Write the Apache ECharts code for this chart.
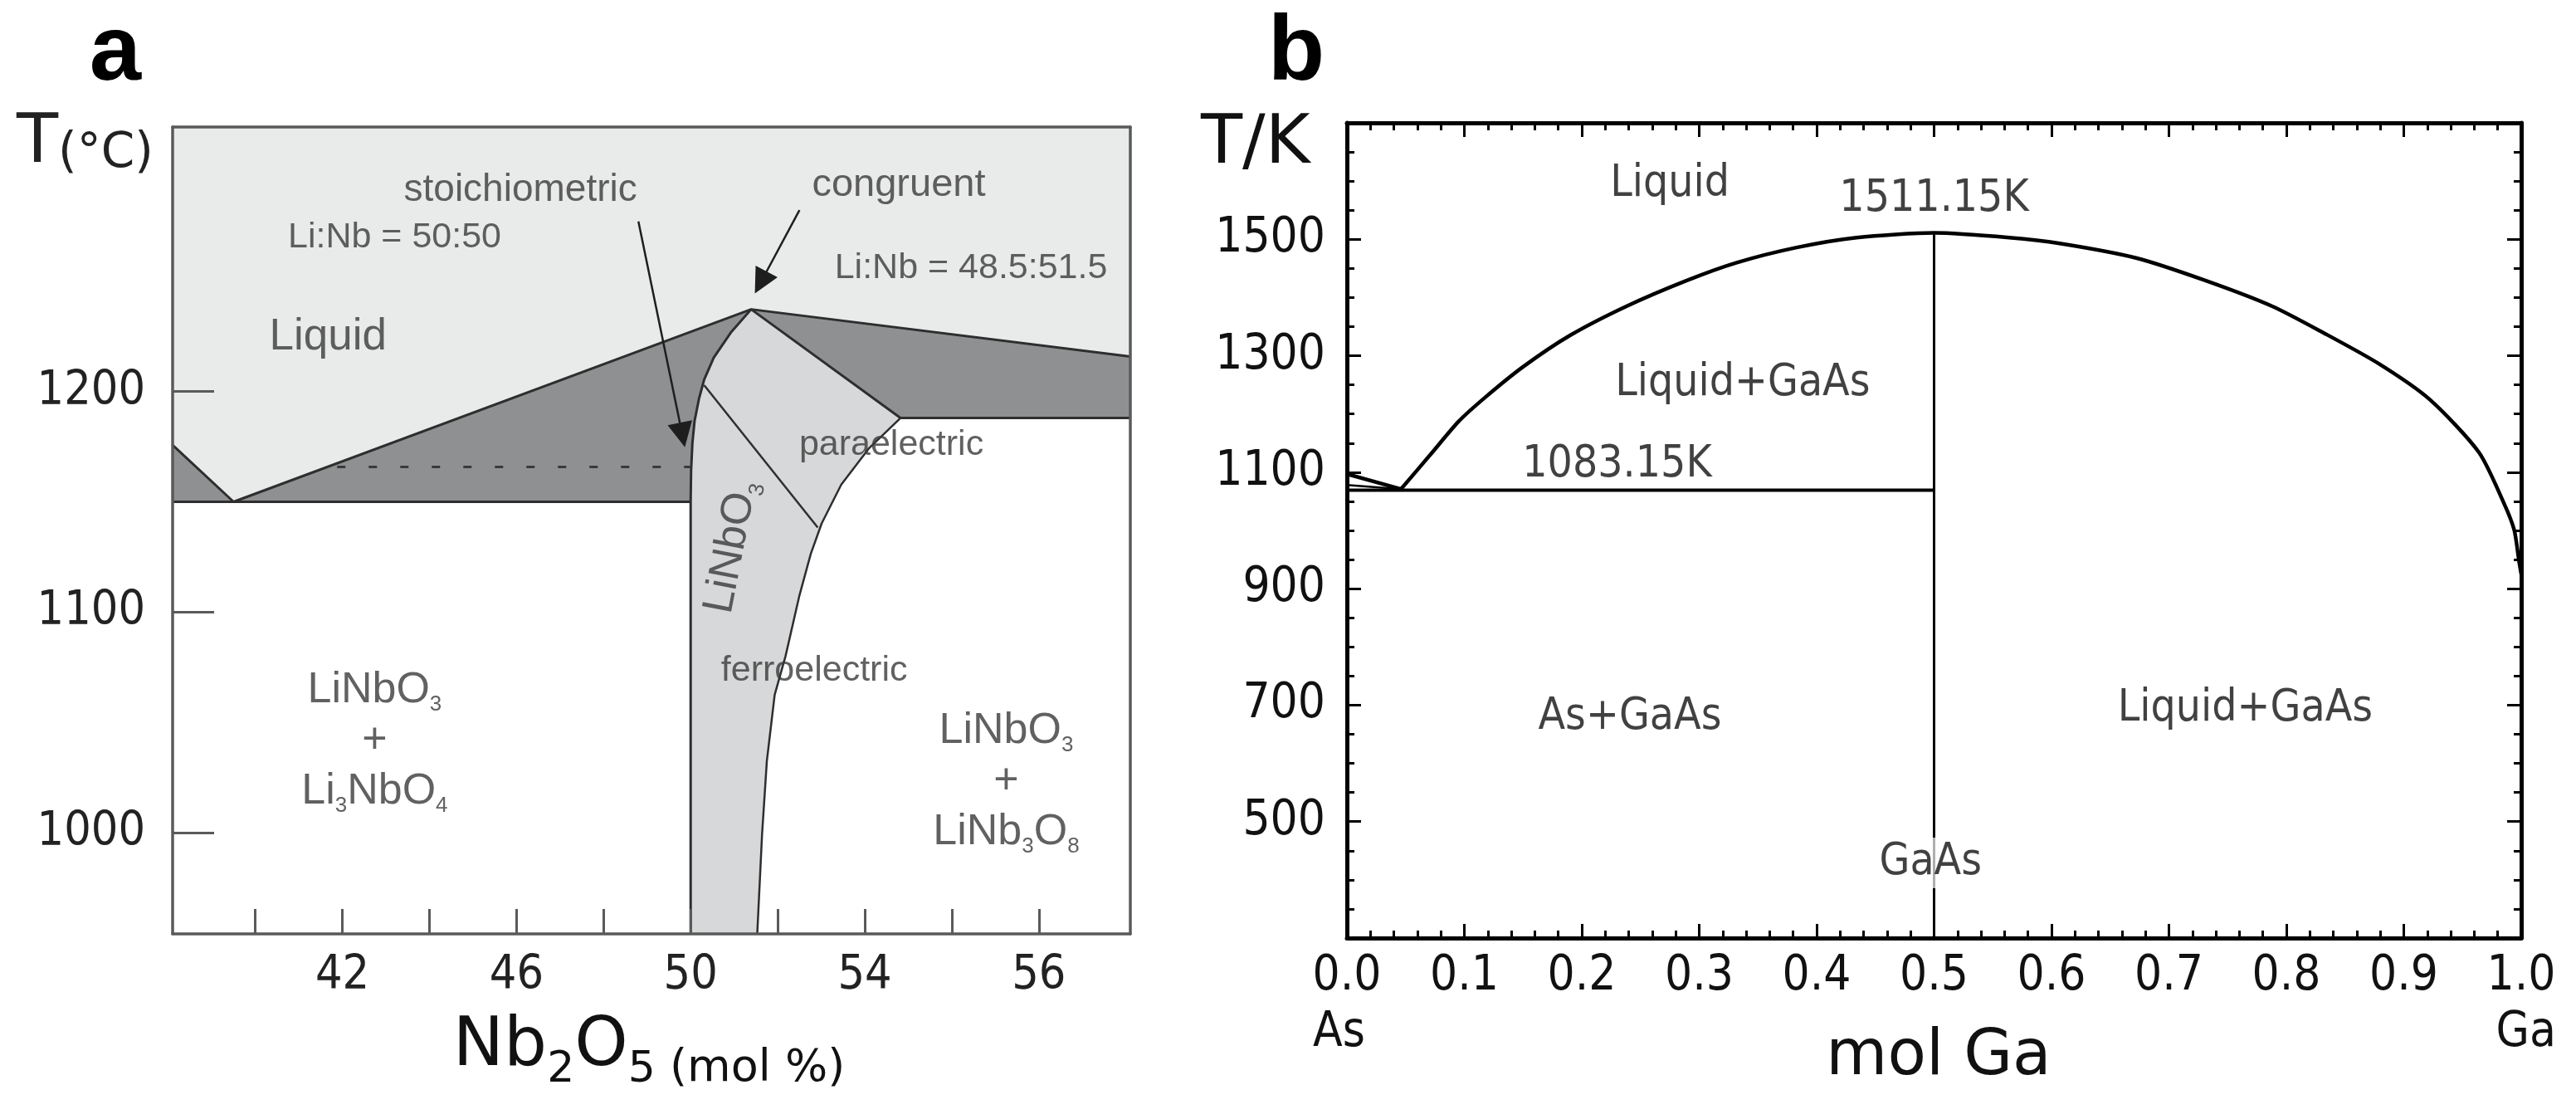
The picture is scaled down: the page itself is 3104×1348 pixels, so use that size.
<!DOCTYPE html>
<html><head><meta charset="utf-8">
<script src="https://cdn.jsdelivr.net/npm/echarts@6/dist/echarts.min.js"></script>
<style>html,body{margin:0;padding:0;background:#fff}#c{width:3104px;height:1348px}</style>
</head><body><div id="c"></div>
<script>
// ---------- Panel a : LiNbO3 phase diagram (x = Nb2O5 mol %, y = T in °C) ----------
const aXRange = [38.1, 60.1];
const aYRange = [954, 1320];
const aXTicks = [40, 42, 44, 46, 48, 50, 52, 54, 56, 58];
const aXLabelValues = [42, 46, 50, 54, 58];
const aXLabelTexts = ['42', '46', '50', '54', '56'];
const aYTicks = [1000, 1100, 1200];
const aLiquidRegion = [[38.1, 1320], [60.1, 1320], [60.1, 1215.9], [51.39, 1237.3], [39.5, 1150], [38.1, 1175.7]];
const aLiquidus = [[38.1, 1175.7], [39.5, 1150], [51.39, 1237.3], [60.1, 1215.9]];
const aLeftSolidus = [[51.39, 1237.3], [50.92, 1226.7], [50.53, 1215.4], [50.31, 1205.4], [50.19, 1196.6], [50.09, 1186.6], [50.04, 1176.6], [50.01, 1164], [50, 1150], [50, 954]];
const aRightSolidus = [[51.39, 1237.3], [54.82, 1188]];
const aRightBoundary = [[54.82, 1188], [54.09, 1174.1], [53.46, 1157.8], [53.01, 1140.2], [52.76, 1126.4], [52.5, 1107.6], [52.18, 1080], [51.93, 1062.4], [51.75, 1032.3], [51.64, 998.9], [51.53, 954]];
const aEutectic = [[38.1, 1150], [50, 1150]];
const aRightEutectic = [[54.82, 1188], [60.1, 1188]];
const aParaFerro = [[50.31, 1202.9], [52.92, 1138.3]];
const aDotted = [[41.88, 1165.8], [50.01, 1165.8]];
const aArrowStoich = [[48.8, 1277.2], [49.81, 1180.3]];
const aArrowCongruent = [[52.5, 1282.3], [51.61, 1249.5]];

// ---------- Panel b : Ga-As phase diagram (x = mol Ga, y = T in K) ----------
const bXRange = [0, 1];
const bYRange = [300, 1700];
const bLiquidus = [[0.046, 1071], [0.071, 1130], [0.095, 1187], [0.118, 1229], [0.15, 1281], [0.19, 1335], [0.238, 1385], [0.289, 1429], [0.332, 1460], [0.383, 1486], [0.434, 1503], [0.5, 1511],
  [0.564, 1503], [0.607, 1493], [0.672, 1468], [0.73, 1430], [0.788, 1385], [0.832, 1339], [0.879, 1286], [0.922, 1225], [0.964, 1134], [0.985, 1048], [0.994, 1001], [0.998, 949], [1.0, 925]];
const bAsLiquidus = [[0, 1097], [0.046, 1071]];
const bAsLower = [[0, 1078], [0.046, 1071]];
const bEutectic = [[0, 1069], [0.5, 1069]];
const bCompound = [[0.5, 1511], [0.5, 300]];

const arial = "'Liberation Sans', Arial, sans-serif";
const cond = "'DejaVu Sans Condensed', 'DejaVu Sans', sans-serif";
const dejavu = "'DejaVu Sans', sans-serif";
const aGray = '#5a5a5a';
const aText = '#3a3a3a';

function poly(pts, color, xi, yi) {
  return { type: 'custom', xAxisIndex: xi, yAxisIndex: yi, z: 1, silent: true, data: [pts[0]],
    renderItem: (p, api) => ({ type: 'polygon', shape: { points: pts.map(q => api.coord(q)) }, style: { fill: color } }) };
}
function line(pts, style, xi, yi, smooth) {
  return { type: 'line', xAxisIndex: xi, yAxisIndex: yi, data: pts, showSymbol: false, symbol: 'none', silent: true, z: 5,
    smooth: smooth || false, lineStyle: Object.assign({ color: '#333', width: 3 }, style) };
}
function textLabels(items, xi, yi, base) {
  return { type: 'scatter', xAxisIndex: xi, yAxisIndex: yi, symbolSize: 0, silent: true, z: 8,
    data: items.map(it => ({ value: it.pos, label: Object.assign({ show: true, position: 'inside', formatter: it.text }, base, it.style || {}) })) };
}

const darkLeft = [aLiquidus[0], aLiquidus[1], aLiquidus[2], ...aLeftSolidus.slice(1, 9), aEutectic[0]];
const darkRight = [aRightSolidus[0], aLiquidus[3], aRightEutectic[1], aRightSolidus[1]];
const linbRegion = [...aRightSolidus, ...aRightBoundary.slice(1), ...aLeftSolidus.slice().reverse()];

const subRich = (size, sub, lh, color, fam) => ({
  m: { fontSize: size, fontFamily: fam, color: color, lineHeight: lh, verticalAlign: 'middle' },
  s: { fontSize: sub, fontFamily: fam, color: color, lineHeight: sub, verticalAlign: 'bottom' }
});

const chart = echarts.init(document.getElementById('c'));
chart.setOption({
  animation: false,
  backgroundColor: '#fff',
  grid: [
    { left: 208, top: 153, width: 1154, height: 972 },
    { left: 1623, top: 148, width: 1415, height: 982 }
  ],
  xAxis: [
    { gridIndex: 0, type: 'value', min: aXRange[0], max: aXRange[1], position: 'bottom', z: 10,
      axisLine: { show: true, onZero: false, lineStyle: { color: aGray, width: 3.5 } },
      axisTick: { show: true, inside: true, length: 30, customValues: aXTicks, lineStyle: { color: aGray, width: 3 } },
      axisLabel: { show: true, customValues: aXLabelValues, formatter: v => aXLabelTexts[aXLabelValues.indexOf(v)], margin: 23, fontSize: 57, fontFamily: cond, color: '#222' },
      splitLine: { show: false } },
    { gridIndex: 0, type: 'value', min: aXRange[0], max: aXRange[1], position: 'top', z: 10,
      axisLine: { show: true, onZero: false, lineStyle: { color: aGray, width: 3.5 } },
      axisTick: { show: false }, axisLabel: { show: false }, splitLine: { show: false } },
    { gridIndex: 1, type: 'value', min: bXRange[0], max: bXRange[1], interval: 0.1, position: 'bottom', z: 10,
      axisLine: { show: true, onZero: false, lineStyle: { color: '#000', width: 5 } },
      axisTick: { show: true, inside: true, length: 17, lineStyle: { color: '#000', width: 3 } },
      minorTick: { show: true, splitNumber: 5, length: 9, lineStyle: { color: '#000', width: 3 } },
      axisLabel: { show: true, formatter: v => v.toFixed(1), margin: 18, fontSize: 58, fontFamily: cond, color: '#111' },
      splitLine: { show: false } },
    { gridIndex: 1, type: 'value', min: bXRange[0], max: bXRange[1], interval: 0.1, position: 'top', z: 10,
      axisLine: { show: true, onZero: false, lineStyle: { color: '#000', width: 5 } },
      axisTick: { show: true, inside: true, length: 17, lineStyle: { color: '#000', width: 3 } },
      minorTick: { show: true, splitNumber: 5, length: 9, lineStyle: { color: '#000', width: 3 } },
      axisLabel: { show: false }, splitLine: { show: false } }
  ],
  yAxis: [
    { gridIndex: 0, type: 'value', min: aYRange[0], max: aYRange[1], position: 'left', z: 10,
      axisLine: { show: true, onZero: false, lineStyle: { color: aGray, width: 3.5 } },
      axisTick: { show: true, inside: true, length: 50, customValues: aYTicks, lineStyle: { color: aGray, width: 3 } },
      axisLabel: { show: true, customValues: aYTicks, formatter: v => String(v), margin: 33, fontSize: 57, fontFamily: cond, color: '#222' },
      splitLine: { show: false } },
    { gridIndex: 0, type: 'value', min: aYRange[0], max: aYRange[1], position: 'right', z: 10,
      axisLine: { show: true, onZero: false, lineStyle: { color: aGray, width: 3.5 } },
      axisTick: { show: false }, axisLabel: { show: false }, splitLine: { show: false } },
    { gridIndex: 1, type: 'value', min: bYRange[0], max: bYRange[1], interval: 200, position: 'left', z: 10,
      axisLine: { show: true, onZero: false, lineStyle: { color: '#000', width: 5 } },
      axisTick: { show: true, inside: true, length: 17, lineStyle: { color: '#000', width: 3 } },
      minorTick: { show: true, splitNumber: 4, length: 9, lineStyle: { color: '#000', width: 3 } },
      axisLabel: { show: true, formatter: v => (v === bYRange[0] || v === bYRange[1]) ? '' : String(v), margin: 26, fontSize: 58, fontFamily: cond, color: '#111' },
      splitLine: { show: false } },
    { gridIndex: 1, type: 'value', min: bYRange[0], max: bYRange[1], interval: 200, position: 'right', z: 10,
      axisLine: { show: true, onZero: false, lineStyle: { color: '#000', width: 5 } },
      axisTick: { show: true, inside: true, length: 17, lineStyle: { color: '#000', width: 3 } },
      minorTick: { show: true, splitNumber: 4, length: 9, lineStyle: { color: '#000', width: 3 } },
      axisLabel: { show: false }, splitLine: { show: false } }
  ],
  series: [
    // panel a regions
    poly(aLiquidRegion, '#e9eaea', 0, 0),
    poly(darkLeft, '#8f9091', 0, 0),
    poly(darkRight, '#8f9091', 0, 0),
    poly(linbRegion, '#d7d8d9', 0, 0),
    // panel a boundaries
    line(aLiquidus, { color: '#2e2e2e', width: 3 }, 0, 0),
    line(aLeftSolidus, { color: '#2e2e2e', width: 3 }, 0, 0),
    line(aRightSolidus, { color: '#2e2e2e', width: 3 }, 0, 0),
    line(aRightBoundary, { color: '#2e2e2e', width: 2.5 }, 0, 0),
    line(aEutectic, { color: '#2e2e2e', width: 3 }, 0, 0),
    line(aRightEutectic, { color: '#2e2e2e', width: 3 }, 0, 0),
    line(aParaFerro, { color: '#2e2e2e', width: 2.5 }, 0, 0),
    line(aDotted, { color: '#3a3a3a', width: 3, type: [10, 28] }, 0, 0),
    { type: 'lines', coordinateSystem: 'cartesian2d', xAxisIndex: 0, yAxisIndex: 0, z: 7, silent: true,
      symbol: ['none', 'triangle'], symbolSize: [1, 30],
      lineStyle: { color: '#1e1e1e', width: 2.5, opacity: 1 },
      data: [{ coords: aArrowStoich }, { coords: aArrowCongruent }] },
    // panel a texts
    textLabels([
      { pos: [46.09, 1291.4], text: 'stoichiometric', style: { fontSize: 46 } },
      { pos: [43.2, 1269.9], text: 'Li:Nb = 50:50', style: { fontSize: 43 } },
      { pos: [54.78, 1293.6], text: 'congruent', style: { fontSize: 47 } },
      { pos: [56.44, 1255.8], text: 'Li:Nb = 48.5:51.5', style: { fontSize: 43 } },
      { pos: [41.67, 1224.6], text: 'Liquid', style: { fontSize: 53 } },
      { pos: [54.61, 1175.6], text: 'paraelectric', style: { fontSize: 43 } },
      { pos: [52.84, 1073.3], text: 'ferroelectric', style: { fontSize: 43 } },
      { pos: [42.74, 1041.5], text: '{m|LiNbO}{s|3}\n{m|+}\n{m|Li}{s|3}{m|NbO}{s|4}', style: { rich: subRich(52, 26, 61, aText, arial) } },
      { pos: [57.25, 1023.0], text: '{m|LiNbO}{s|3}\n{m|+}\n{m|LiNb}{s|3}{m|O}{s|8}', style: { rich: subRich(52, 26, 61, aText, arial) } },
      { pos: [50.94, 1129.5], text: '{m|LiNbO}{s|3}', style: { rotate: 79, rich: subRich(52, 26, 61, aText, arial) } }
    ], 0, 0, { fontFamily: arial, color: aText, align: 'center', verticalAlign: 'middle' }),
    // panel b curves
    line(bLiquidus, { color: '#000', width: 4.5 }, 2, 2, 0.25),
    line(bAsLiquidus, { color: '#000', width: 4.5 }, 2, 2),
    line(bAsLower, { color: '#000', width: 2.5 }, 2, 2),
    line(bEutectic, { color: '#000', width: 4 }, 2, 2),
    line(bCompound, { color: '#000', width: 3 }, 2, 2),
    textLabels([
      { pos: [0.275, 1594], text: 'Liquid' },
      { pos: [0.5, 1568], text: '1511.15K' },
      { pos: [0.337, 1252], text: 'Liquid+GaAs' },
      { pos: [0.23, 1112.5], text: '1083.15K' },
      { pos: [0.241, 679.5], text: 'As+GaAs' },
      { pos: [0.765, 693], text: 'Liquid+GaAs' },
      { pos: [0.497, 429], text: 'GaAs', style: { backgroundColor: 'rgba(255,255,255,0.85)', padding: [4, 0] } }
    ], 2, 2, { fontFamily: cond, fontSize: 53, color: '#111', align: 'center', verticalAlign: 'middle' })
  ],
  graphic: [
    { type: 'text', x: 139, y: 65, style: { text: 'a', fontFamily: arial, fontWeight: 'bold', fontSize: 112, fill: '#000', align: 'center', verticalAlign: 'middle' } },
    { type: 'text', x: 1562, y: 65, style: { text: 'b', fontFamily: arial, fontWeight: 'bold', fontSize: 112, fill: '#000', align: 'center', verticalAlign: 'middle' } },
    { type: 'text', x: 20, y: 174, style: { text: '{t|T}{u|(°C)}', align: 'left', verticalAlign: 'middle',
        rich: { t: { fontSize: 82, fontFamily: dejavu, fill: '#222', lineHeight: 82, verticalAlign: 'middle' },
                u: { fontSize: 58, fontFamily: dejavu, fill: '#222', lineHeight: 68, verticalAlign: 'bottom' } } } },
    { type: 'text', x: 1447, y: 175, style: { text: 'T/K', fontFamily: dejavu, fontSize: 82, fill: '#111', align: 'left', verticalAlign: 'middle' } },
    { type: 'text', x: 782, y: 1262, style: { text: '{a|Nb}{b|2}{a|O}{b|5}{c| (mol %)}', align: 'center', verticalAlign: 'middle',
        rich: { a: { fontSize: 82, fontFamily: dejavu, fill: '#111', lineHeight: 106, verticalAlign: 'middle' },
                b: { fontSize: 52, fontFamily: dejavu, fill: '#111', lineHeight: 52, verticalAlign: 'bottom' },
                c: { fontSize: 54, fontFamily: dejavu, fill: '#111', lineHeight: 94, verticalAlign: 'bottom' } } } },
    { type: 'text', x: 2336, y: 1274, style: { text: 'mol Ga', fontFamily: dejavu, fontSize: 76, fill: '#111', align: 'center', verticalAlign: 'middle' } },
    { type: 'text', x: 1582, y: 1245, style: { text: 'As', fontFamily: cond, fontSize: 58, fill: '#111', align: 'left', verticalAlign: 'middle' } },
    { type: 'text', x: 3080, y: 1245, style: { text: 'Ga', fontFamily: cond, fontSize: 58, fill: '#111', align: 'right', verticalAlign: 'middle' } }
  ]
});
</script>
</body></html>
